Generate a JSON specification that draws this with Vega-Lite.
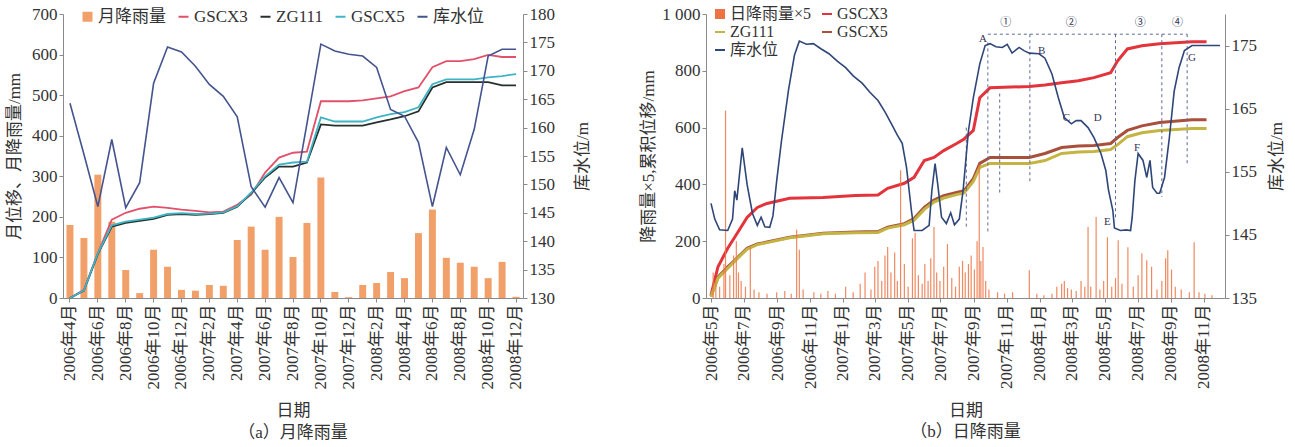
{
  "$schema": "https://vega.github.io/schema/vega-lite/v6.json",
  "padding": {"left": 5, "top": 5, "right": 2, "bottom": 2},
  "config": {
    "font": "Liberation Serif, Noto Sans CJK SC",
    "view": {"stroke": null},
    "axis": {
      "grid": false, "domainColor": "#8a8a8a", "tickColor": "#8a8a8a", "tickSize": 4, "labelOverlap": false,
      "labelColor": "#333333", "titleColor": "#333333", "labelFontSize": 17, "titleFontSize": 17,
      "titleFontWeight": "normal", "labelFont": "Liberation Serif, Noto Sans CJK SC", "titleFont": "Liberation Serif, Noto Sans CJK SC"
    },
    "axisTemporal": {"labelOverlap": false},
    "legend": {"labelFontSize": 17, "labelColor": "#333333", "labelFont": "Liberation Serif, Noto Sans CJK SC"},
    "title": {"fontSize": 17, "fontWeight": "normal", "color": "#333333", "font": "Liberation Serif, Noto Sans CJK SC"},
    "concat": {"spacing": 48}
  },
  "resolve": {"scale": {"color": "independent"}, "legend": {"color": "independent"}},
  "datasets": {
    "monthly": [
      {"月份": "2006年4月", "月降雨量": 180, "GSCX3": 0, "ZG111": 0, "GSCX5": 0, "库水位": 164.3},
      {"月份": "2006年5月", "月降雨量": 148, "GSCX3": 20, "ZG111": 18, "GSCX5": 19, "库水位": 155.3},
      {"月份": "2006年6月", "月降雨量": 304, "GSCX3": 111, "ZG111": 108, "GSCX5": 110, "库水位": 146.1},
      {"月份": "2006年7月", "月降雨量": 188, "GSCX3": 193, "ZG111": 176, "GSCX5": 179, "库水位": 157.9},
      {"月份": "2006年8月", "月降雨量": 69, "GSCX3": 210, "ZG111": 185, "GSCX5": 188, "库水位": 145.9},
      {"月份": "2006年9月", "月降雨量": 12, "GSCX3": 220, "ZG111": 190, "GSCX5": 193, "库水位": 150.3},
      {"月份": "2006年10月", "月降雨量": 119, "GSCX3": 225, "ZG111": 195, "GSCX5": 198, "库水位": 167.8},
      {"月份": "2006年11月", "月降雨量": 77, "GSCX3": 222, "ZG111": 205, "GSCX5": 207, "库水位": 174.2},
      {"月份": "2006年12月", "月降雨量": 20, "GSCX3": 218, "ZG111": 207, "GSCX5": 209, "库水位": 173.3},
      {"月份": "2007年1月", "月降雨量": 18, "GSCX3": 215, "ZG111": 205, "GSCX5": 207, "库水位": 170.8},
      {"月份": "2007年2月", "月降雨量": 32, "GSCX3": 211, "ZG111": 207, "GSCX5": 208, "库水位": 167.6},
      {"月份": "2007年3月", "月降雨量": 30, "GSCX3": 213, "ZG111": 210, "GSCX5": 211, "库水位": 165.5},
      {"月份": "2007年4月", "月降雨量": 143, "GSCX3": 230, "ZG111": 225, "GSCX5": 226, "库水位": 161.9},
      {"月份": "2007年5月", "月降雨量": 176, "GSCX3": 255, "ZG111": 258, "GSCX5": 260, "库水位": 149.6},
      {"月份": "2007年6月", "月降雨量": 119, "GSCX3": 309, "ZG111": 297, "GSCX5": 300, "库水位": 146.0},
      {"月份": "2007年7月", "月降雨量": 200, "GSCX3": 346, "ZG111": 324, "GSCX5": 329, "库水位": 151.2},
      {"月份": "2007年8月", "月降雨量": 101, "GSCX3": 358, "ZG111": 324, "GSCX5": 334, "库水位": 146.8},
      {"月份": "2007年9月", "月降雨量": 185, "GSCX3": 361, "ZG111": 334, "GSCX5": 336, "库水位": 160.7},
      {"月份": "2007年10月", "月降雨量": 297, "GSCX3": 485, "ZG111": 428, "GSCX5": 445, "库水位": 174.7},
      {"月份": "2007年11月", "月降雨量": 15, "GSCX3": 485, "ZG111": 425, "GSCX5": 435, "库水位": 173.5},
      {"月份": "2007年12月", "月降雨量": 2, "GSCX3": 485, "ZG111": 425, "GSCX5": 435, "库水位": 172.9},
      {"月份": "2008年1月", "月降雨量": 32, "GSCX3": 487, "ZG111": 425, "GSCX5": 435, "库水位": 172.6},
      {"月份": "2008年2月", "月降雨量": 37, "GSCX3": 492, "ZG111": 433, "GSCX5": 445, "库水位": 170.6},
      {"月份": "2008年3月", "月降雨量": 64, "GSCX3": 497, "ZG111": 440, "GSCX5": 453, "库水位": 163.2},
      {"月份": "2008年4月", "月降雨量": 49, "GSCX3": 510, "ZG111": 448, "GSCX5": 458, "库水位": 162.0},
      {"月份": "2008年5月", "月降雨量": 160, "GSCX3": 519, "ZG111": 460, "GSCX5": 470, "库水位": 157.4},
      {"月份": "2008年6月", "月降雨量": 218, "GSCX3": 569, "ZG111": 519, "GSCX5": 527, "库水位": 146.1},
      {"月份": "2008年7月", "月降雨量": 99, "GSCX3": 584, "ZG111": 532, "GSCX5": 539, "库水位": 156.5},
      {"月份": "2008年8月", "月降雨量": 87, "GSCX3": 584, "ZG111": 532, "GSCX5": 539, "库水位": 151.7},
      {"月份": "2008年9月", "月降雨量": 77, "GSCX3": 589, "ZG111": 532, "GSCX5": 539, "库水位": 159.7},
      {"月份": "2008年10月", "月降雨量": 49, "GSCX3": 599, "ZG111": 532, "GSCX5": 544, "库水位": 172.6},
      {"月份": "2008年11月", "月降雨量": 89, "GSCX3": 594, "ZG111": 524, "GSCX5": 547, "库水位": 173.8},
      {"月份": "2008年12月", "月降雨量": 3, "GSCX3": 594, "ZG111": 524, "GSCX5": 552, "库水位": 173.8}
    ],
    "rain": [
      {"日期": "2006/05/05", "降雨量x5": 90}, {"日期": "2006/05/10", "降雨量x5": 60}, {"日期": "2006/05/17", "降雨量x5": 40},
      {"日期": "2006/05/25", "降雨量x5": 120}, {"日期": "2006/05/28", "降雨量x5": 660}, {"日期": "2006/06/05", "降雨量x5": 80},
      {"日期": "2006/06/12", "降雨量x5": 150}, {"日期": "2006/06/17", "降雨量x5": 200}, {"日期": "2006/06/21", "降雨量x5": 90},
      {"日期": "2006/06/26", "降雨量x5": 60}, {"日期": "2006/07/04", "降雨量x5": 40}, {"日期": "2006/07/13", "降雨量x5": 180},
      {"日期": "2006/07/20", "降雨量x5": 30}, {"日期": "2006/07/29", "降雨量x5": 20}, {"日期": "2006/08/13", "降雨量x5": 15},
      {"日期": "2006/08/31", "降雨量x5": 20}, {"日期": "2006/09/15", "降雨量x5": 25}, {"日期": "2006/09/27", "降雨量x5": 15},
      {"日期": "2006/10/07", "降雨量x5": 240}, {"日期": "2006/10/12", "降雨量x5": 170}, {"日期": "2006/10/19", "降雨量x5": 30},
      {"日期": "2006/11/08", "降雨量x5": 20}, {"日期": "2006/11/21", "降雨量x5": 15}, {"日期": "2006/12/04", "降雨量x5": 25},
      {"日期": "2006/12/18", "降雨量x5": 15}, {"日期": "2007/01/06", "降雨量x5": 40}, {"日期": "2007/01/20", "降雨量x5": 20},
      {"日期": "2007/02/02", "降雨量x5": 50}, {"日期": "2007/02/11", "降雨量x5": 90}, {"日期": "2007/02/22", "降雨量x5": 30},
      {"日期": "2007/03/01", "降雨量x5": 110}, {"日期": "2007/03/07", "降雨量x5": 130}, {"日期": "2007/03/14", "降雨量x5": 60},
      {"日期": "2007/03/20", "降雨量x5": 150}, {"日期": "2007/03/25", "降雨量x5": 180}, {"日期": "2007/03/31", "降雨量x5": 90},
      {"日期": "2007/04/07", "降雨量x5": 160}, {"日期": "2007/04/12", "降雨量x5": 60}, {"日期": "2007/04/18", "降雨量x5": 450},
      {"日期": "2007/04/25", "降雨量x5": 120}, {"日期": "2007/05/02", "降雨量x5": 40}, {"日期": "2007/05/10", "降雨量x5": 210},
      {"日期": "2007/05/15", "降雨量x5": 230}, {"日期": "2007/05/21", "降雨量x5": 80}, {"日期": "2007/05/28", "降雨量x5": 50},
      {"日期": "2007/06/02", "降雨量x5": 120}, {"日期": "2007/06/08", "降雨量x5": 60}, {"日期": "2007/06/13", "降雨量x5": 140},
      {"日期": "2007/06/19", "降雨量x5": 250}, {"日期": "2007/06/24", "降雨量x5": 90}, {"日期": "2007/06/30", "降雨量x5": 60},
      {"日期": "2007/07/07", "降雨量x5": 110}, {"日期": "2007/07/14", "降雨量x5": 190}, {"日期": "2007/07/22", "降雨量x5": 70},
      {"日期": "2007/07/29", "降雨量x5": 40}, {"日期": "2007/08/05", "降雨量x5": 110}, {"日期": "2007/08/11", "降雨量x5": 130},
      {"日期": "2007/08/16", "降雨量x5": 90}, {"日期": "2007/08/22", "降雨量x5": 120}, {"日期": "2007/08/27", "降雨量x5": 150},
      {"日期": "2007/09/02", "降雨量x5": 100}, {"日期": "2007/09/07", "降雨量x5": 200}, {"日期": "2007/09/11", "降雨量x5": 470},
      {"日期": "2007/09/14", "降雨量x5": 130}, {"日期": "2007/09/18", "降雨量x5": 180}, {"日期": "2007/09/23", "降雨量x5": 60},
      {"日期": "2007/09/29", "降雨量x5": 30}, {"日期": "2007/10/15", "降雨量x5": 20}, {"日期": "2007/10/28", "降雨量x5": 15},
      {"日期": "2007/11/12", "降雨量x5": 20}, {"日期": "2007/12/13", "降雨量x5": 98}, {"日期": "2007/12/27", "降雨量x5": 15},
      {"日期": "2008/01/09", "降雨量x5": 10}, {"日期": "2008/01/24", "降雨量x5": 15}, {"日期": "2008/02/02", "降雨量x5": 40},
      {"日期": "2008/02/11", "降雨量x5": 50}, {"日期": "2008/02/16", "降雨量x5": 60}, {"日期": "2008/02/22", "降雨量x5": 35},
      {"日期": "2008/02/29", "降雨量x5": 30}, {"日期": "2008/03/09", "降雨量x5": 25}, {"日期": "2008/03/18", "降雨量x5": 60},
      {"日期": "2008/03/25", "降雨量x5": 40}, {"日期": "2008/03/31", "降雨量x5": 250}, {"日期": "2008/04/05", "降雨量x5": 40},
      {"日期": "2008/04/15", "降雨量x5": 285}, {"日期": "2008/04/22", "降雨量x5": 30}, {"日期": "2008/04/29", "降雨量x5": 60},
      {"日期": "2008/05/06", "降雨量x5": 214}, {"日期": "2008/05/14", "降雨量x5": 40}, {"日期": "2008/05/21", "降雨量x5": 70},
      {"日期": "2008/05/26", "降雨量x5": 203}, {"日期": "2008/06/02", "降雨量x5": 50}, {"日期": "2008/06/13", "降雨量x5": 179},
      {"日期": "2008/06/23", "降雨量x5": 40}, {"日期": "2008/07/02", "降雨量x5": 80}, {"日期": "2008/07/09", "降雨量x5": 158},
      {"日期": "2008/07/18", "降雨量x5": 133}, {"日期": "2008/07/27", "降雨量x5": 110}, {"日期": "2008/08/06", "降雨量x5": 30},
      {"日期": "2008/08/15", "降雨量x5": 60}, {"日期": "2008/08/22", "降雨量x5": 140}, {"日期": "2008/08/26", "降雨量x5": 168},
      {"日期": "2008/09/02", "降雨量x5": 100}, {"日期": "2008/09/09", "降雨量x5": 40}, {"日期": "2008/09/20", "降雨量x5": 30},
      {"日期": "2008/10/05", "降雨量x5": 20}, {"日期": "2008/10/14", "降雨量x5": 196}, {"日期": "2008/10/23", "降雨量x5": 20},
      {"日期": "2008/11/03", "降雨量x5": 15}, {"日期": "2008/11/16", "降雨量x5": 10}
    ],
    "displacement": [
      {"日期": "2006/05/01", "GSCX3": 10, "GSCX5": 5, "ZG111": 5},
      {"日期": "2006/05/14", "GSCX3": 110, "GSCX5": 74, "ZG111": 70},
      {"日期": "2006/06/01", "GSCX3": 175, "GSCX5": 110, "ZG111": 105},
      {"日期": "2006/06/14", "GSCX3": 214, "GSCX5": 133, "ZG111": 130},
      {"日期": "2006/07/07", "GSCX3": 284, "GSCX5": 175, "ZG111": 172},
      {"日期": "2006/07/26", "GSCX3": 319, "GSCX5": 190, "ZG111": 188},
      {"日期": "2006/08/13", "GSCX3": 333, "GSCX5": 197, "ZG111": 195},
      {"日期": "2006/09/24", "GSCX3": 351, "GSCX5": 214, "ZG111": 212},
      {"日期": "2006/11/25", "GSCX3": 354, "GSCX5": 228, "ZG111": 226},
      {"日期": "2007/01/24", "GSCX3": 361, "GSCX5": 232, "ZG111": 230},
      {"日期": "2007/03/07", "GSCX3": 363, "GSCX5": 234, "ZG111": 231},
      {"日期": "2007/03/25", "GSCX3": 386, "GSCX5": 249, "ZG111": 246},
      {"日期": "2007/04/25", "GSCX3": 404, "GSCX5": 262, "ZG111": 258},
      {"日期": "2007/05/13", "GSCX3": 425, "GSCX5": 280, "ZG111": 274},
      {"日期": "2007/06/01", "GSCX3": 484, "GSCX5": 319, "ZG111": 312},
      {"日期": "2007/06/19", "GSCX3": 495, "GSCX5": 345, "ZG111": 338},
      {"日期": "2007/07/07", "GSCX3": 519, "GSCX5": 360, "ZG111": 352},
      {"日期": "2007/07/31", "GSCX3": 544, "GSCX5": 372, "ZG111": 364},
      {"日期": "2007/08/14", "GSCX3": 560, "GSCX5": 378, "ZG111": 370},
      {"日期": "2007/08/31", "GSCX3": 590, "GSCX5": 420, "ZG111": 410},
      {"日期": "2007/09/12", "GSCX3": 705, "GSCX5": 474, "ZG111": 460},
      {"日期": "2007/10/01", "GSCX3": 740, "GSCX5": 495, "ZG111": 474},
      {"日期": "2007/12/13", "GSCX3": 745, "GSCX5": 495, "ZG111": 474},
      {"日期": "2008/01/11", "GSCX3": 750, "GSCX5": 509, "ZG111": 484},
      {"日期": "2008/02/11", "GSCX3": 758, "GSCX5": 530, "ZG111": 509},
      {"日期": "2008/03/13", "GSCX3": 765, "GSCX5": 535, "ZG111": 514},
      {"日期": "2008/04/11", "GSCX3": 776, "GSCX5": 537, "ZG111": 516},
      {"日期": "2008/05/12", "GSCX3": 793, "GSCX5": 544, "ZG111": 523},
      {"日期": "2008/05/25", "GSCX3": 835, "GSCX5": 565, "ZG111": 540},
      {"日期": "2008/06/12", "GSCX3": 877, "GSCX5": 590, "ZG111": 568},
      {"日期": "2008/07/09", "GSCX3": 888, "GSCX5": 606, "ZG111": 582},
      {"日期": "2008/08/11", "GSCX3": 895, "GSCX5": 618, "ZG111": 590},
      {"日期": "2008/10/10", "GSCX3": 902, "GSCX5": 628, "ZG111": 597},
      {"日期": "2008/11/06", "GSCX3": 902, "GSCX5": 628, "ZG111": 597}
    ],
    "level": [
      {"日期": "2006/05/01", "库水位": 150.0}, {"日期": "2006/05/08", "库水位": 147.5}, {"日期": "2006/05/17", "库水位": 145.8},
      {"日期": "2006/06/01", "库水位": 145.7}, {"日期": "2006/06/10", "库水位": 147.5}, {"日期": "2006/06/14", "库水位": 152.0},
      {"日期": "2006/06/18", "库水位": 150.5}, {"日期": "2006/06/28", "库水位": 158.8}, {"日期": "2006/07/07", "库水位": 153.0},
      {"日期": "2006/07/17", "库水位": 148.4}, {"日期": "2006/07/26", "库水位": 146.5}, {"日期": "2006/08/02", "库水位": 147.8},
      {"日期": "2006/08/09", "库水位": 146.3}, {"日期": "2006/08/18", "库水位": 146.2}, {"日期": "2006/08/24", "库水位": 148.0},
      {"日期": "2006/08/31", "库水位": 153.6}, {"日期": "2006/09/09", "库水位": 160.0}, {"日期": "2006/09/22", "库水位": 168.0},
      {"日期": "2006/10/03", "库水位": 173.5}, {"日期": "2006/10/12", "库水位": 175.7}, {"日期": "2006/10/25", "库水位": 175.2},
      {"日期": "2006/11/07", "库水位": 175.3}, {"日期": "2006/11/21", "库水位": 174.5}, {"日期": "2006/12/06", "库水位": 173.7},
      {"日期": "2006/12/22", "库水位": 172.5}, {"日期": "2007/01/06", "库水位": 171.5}, {"日期": "2007/01/20", "库水位": 170.2},
      {"日期": "2007/02/06", "库水位": 169.0}, {"日期": "2007/02/20", "库水位": 167.6}, {"日期": "2007/03/07", "库水位": 166.3},
      {"日期": "2007/03/20", "库水位": 164.5}, {"日期": "2007/04/01", "库水位": 162.6}, {"日期": "2007/04/12", "库水位": 160.8},
      {"日期": "2007/04/21", "库水位": 159.5}, {"日期": "2007/04/29", "库水位": 155.7}, {"日期": "2007/05/08", "库水位": 148.9},
      {"日期": "2007/05/13", "库水位": 145.7}, {"日期": "2007/05/28", "库水位": 145.7}, {"日期": "2007/06/10", "库水位": 146.5},
      {"日期": "2007/06/15", "库水位": 152.0}, {"日期": "2007/06/21", "库水位": 156.3}, {"日期": "2007/06/26", "库水位": 153.0},
      {"日期": "2007/07/03", "库水位": 147.8}, {"日期": "2007/07/12", "库水位": 146.8}, {"日期": "2007/07/20", "库水位": 148.5},
      {"日期": "2007/07/27", "库水位": 146.6}, {"日期": "2007/08/05", "库水位": 147.5}, {"日期": "2007/08/12", "库水位": 152.0},
      {"日期": "2007/08/22", "库水位": 161.5}, {"日期": "2007/08/31", "库水位": 166.7}, {"日期": "2007/09/12", "库水位": 172.1},
      {"日期": "2007/09/22", "库水位": 175.0}, {"日期": "2007/10/01", "库水位": 175.3}, {"日期": "2007/10/12", "库水位": 174.8},
      {"日期": "2007/10/24", "库水位": 174.7}, {"日期": "2007/11/02", "库水位": 175.2}, {"日期": "2007/11/11", "库水位": 173.8},
      {"日期": "2007/11/24", "库水位": 174.7}, {"日期": "2007/12/03", "库水位": 174.2}, {"日期": "2007/12/13", "库水位": 173.8},
      {"日期": "2007/12/31", "库水位": 173.7}, {"日期": "2008/01/11", "库水位": 173.0}, {"日期": "2008/01/24", "库水位": 170.5},
      {"日期": "2008/02/05", "库水位": 166.7}, {"日期": "2008/02/16", "库水位": 163.6}, {"日期": "2008/02/29", "库水位": 162.6},
      {"日期": "2008/03/09", "库水位": 163.1}, {"日期": "2008/03/18", "库水位": 163.1}, {"日期": "2008/03/31", "库水位": 162.0},
      {"日期": "2008/04/11", "库水位": 160.4}, {"日期": "2008/04/24", "库水位": 157.9}, {"日期": "2008/05/03", "库水位": 155.2},
      {"日期": "2008/05/08", "库水位": 152.1}, {"日期": "2008/05/16", "库水位": 148.9}, {"日期": "2008/05/19", "库水位": 146.1},
      {"日期": "2008/05/30", "库水位": 145.7}, {"日期": "2008/06/10", "库水位": 145.8}, {"日期": "2008/06/18", "库水位": 145.7},
      {"日期": "2008/06/21", "库水位": 147.8}, {"日期": "2008/06/26", "库水位": 153.6}, {"日期": "2008/07/02", "库水位": 157.9},
      {"日期": "2008/07/11", "库水位": 156.8}, {"日期": "2008/07/18", "库水位": 154.1}, {"日期": "2008/07/24", "库水位": 156.8},
      {"日期": "2008/07/29", "库水位": 152.5}, {"日期": "2008/08/06", "库水位": 151.6}, {"日期": "2008/08/11", "库水位": 151.6},
      {"日期": "2008/08/20", "库水位": 154.1}, {"日期": "2008/08/29", "库水位": 160.4}, {"日期": "2008/09/07", "库水位": 167.8},
      {"日期": "2008/09/16", "库水位": 171.5}, {"日期": "2008/09/26", "库水位": 174.2}, {"日期": "2008/10/10", "库水位": 175.0},
      {"日期": "2008/11/05", "库水位": 175.0}, {"日期": "2008/12/01", "库水位": 175.0}
    ],
    "stages": [
      {"日期": "2007/08/18", "上": 162.0, "下": 146.0},
      {"日期": "2007/09/27", "上": 175.5, "下": 145.4},
      {"日期": "2007/10/19", "上": 167.4, "下": 151.6},
      {"日期": "2007/12/14", "上": 176.8, "下": 153.2},
      {"日期": "2008/05/21", "上": 176.8, "下": 147.3},
      {"日期": "2008/08/15", "上": 176.8, "下": 151.0},
      {"日期": "2008/10/01", "上": 176.8, "下": 156.3}
    ],
    "stageSpan": [
      {"日期": "2007/09/27", "终": "2008/10/01", "库水位": 176.8}
    ],
    "labels": [
      {"日期": "2007/10/30", "库水位": 178.5, "标注": "①"},
      {"日期": "2008/02/29", "库水位": 178.5, "标注": "②"},
      {"日期": "2008/07/06", "库水位": 178.5, "标注": "③"},
      {"日期": "2008/09/13", "库水位": 178.5, "标注": "④"},
      {"日期": "2007/09/18", "库水位": 176.0, "标注": "A"},
      {"日期": "2008/01/05", "库水位": 174.2, "标注": "B"},
      {"日期": "2008/02/20", "库水位": 163.6, "标注": "C"},
      {"日期": "2008/04/18", "库水位": 163.6, "标注": "D"},
      {"日期": "2008/05/06", "库水位": 147.0, "标注": "E"},
      {"日期": "2008/06/30", "库水位": 158.8, "标注": "F"},
      {"日期": "2008/10/10", "库水位": 173.0, "标注": "G"}
    ]
  },
  "hconcat": [
    {
      "width": 460,
      "height": 284,
      "title": {"text": "（a）月降雨量", "orient": "bottom", "offset": 6},
      "data": {"name": "monthly"},
      "layer": [
        {
          "layer": [
            {
              "mark": {"type": "bar", "color": "#f2a06a"},
              "encoding": {
                "x": {
                  "field": "月份", "type": "ordinal", "sort": null,
                  "scale": {"paddingInner": 0.5, "paddingOuter": 0.25},
                  "axis": {
                    "title": "日期", "labelAngle": -90, "titlePadding": 14, "labelOverlap": false,
                    "values": ["2006年4月", "2006年6月", "2006年8月", "2006年10月", "2006年12月", "2007年2月", "2007年4月", "2007年6月", "2007年8月", "2007年10月", "2007年12月", "2008年2月", "2008年4月", "2008年6月", "2008年8月", "2008年10月", "2008年12月"]
                  }
                },
                "y": {
                  "field": "月降雨量", "type": "quantitative",
                  "scale": {"domain": [0, 700], "nice": false},
                  "axis": {"title": "月位移、月降雨量/mm", "titleAngle": 270, "titlePadding": 8, "values": [0, 100, 200, 300, 400, 500, 600, 700]}
                },
                "color": {
                  "datum": "月降雨量", "type": "nominal",
                  "scale": {"domain": ["月降雨量", "GSCX3", "ZG111", "GSCX5", "库水位"], "range": ["#f2a06a", "#e2506a", "#26302c", "#3fb4c4", "#44548e"]},
                  "legend": {
                    "title": null, "orient": "none", "legendX": 16, "legendY": -6, "direction": "horizontal", "columns": 5,
                    "columnPadding": 8, "labelOffset": 2, "symbolSize": 100, "symbolStrokeWidth": 2, "labelFontSize": 17,
                    "encode": {"symbols": {"update": {
                      "shape": {"signal": "datum.value === '月降雨量' ? 'square' : 'stroke'"},
                      "fill": {"signal": "datum.value === '月降雨量' ? '#f2a06a' : 'transparent'"},
                      "stroke": {"signal": "({'月降雨量': '#f2a06a', 'GSCX3': '#e2506a', 'ZG111': '#26302c', 'GSCX5': '#3fb4c4', '库水位': '#44548e'})[datum.value]"},
                      "strokeWidth": {"signal": "datum.value === '月降雨量' ? 0 : 2"}
                    }}}
                  }
                }
              }
            },
            {
              "transform": [{"fold": ["GSCX3", "ZG111", "GSCX5"], "as": ["测点", "位移"]}],
              "mark": {"type": "line", "strokeWidth": 1.8},
              "encoding": {
                "x": {"field": "月份", "type": "ordinal", "sort": null},
                "y": {"field": "位移", "type": "quantitative"},
                "color": {"field": "测点", "type": "nominal", "legend": {"title": null}}
              }
            }
          ]
        },
        {
          "mark": {"type": "line", "strokeWidth": 1.6},
          "encoding": {
            "x": {"field": "月份", "type": "ordinal", "sort": null},
            "y": {
              "field": "库水位", "type": "quantitative",
              "scale": {"domain": [130, 180], "nice": false, "zero": false},
              "axis": {"orient": "right", "title": "库水位/m", "titleAngle": 270, "titleBaseline": "top", "titlePadding": 20, "values": [130, 135, 140, 145, 150, 155, 160, 165, 170, 175, 180]}
            },
            "color": {"datum": "库水位", "type": "nominal"}
          }
        }
      ],
      "resolve": {"scale": {"y": "independent"}}
    },
    {
      "width": 519,
      "height": 284,
      "title": {"text": "（b）日降雨量", "orient": "bottom", "offset": 6},
      "layer": [
        {
          "layer": [
            {
              "data": {"name": "displacement"},
              "transform": [{"fold": ["GSCX3", "GSCX5", "ZG111"], "as": ["测点", "位移"]}],
              "mark": {"type": "line", "strokeWidth": 3},
              "encoding": {
                "x": {
                  "field": "日期", "type": "temporal",
                  "scale": {"domain": [{"year": 2006, "month": 5, "date": 1}, {"year": 2008, "month": 12, "date": 1}]},
                  "axis": {
                    "title": "日期", "labelAngle": -90, "titlePadding": 14, "labelOverlap": false, "labelBound": false,
                    "format": "%Y年%-m月", "formatType": "time",
                    "tickCount": {"interval": "month", "step": 2}
                  }
                },
                "y": {
                  "field": "位移", "type": "quantitative",
                  "scale": {"domain": [0, 1000], "nice": false},
                  "axis": {"title": "降雨量×5,累积位移/mm", "titleAngle": 270, "titlePadding": 4, "values": [0, 100, 200, 300, 400, 500, 600, 700, 800, 900, 1000], "labelExpr": "datum.value == 1000 ? '1 000' : datum.label"}
                },
                "color": {
                  "field": "测点", "type": "nominal",
                  "scale": {"domain": ["日降雨量×5", "GSCX3", "ZG111", "GSCX5", "库水位"], "range": ["#ec7444", "#e3343c", "#c4b444", "#a8503c", "#2f4678"]},
                  "legend": {
                    "title": null, "orient": "none", "legendX": 6, "legendY": -8, "direction": "horizontal", "columns": 2,
                    "columnPadding": 6, "rowPadding": 2, "labelOffset": 2, "symbolSize": 100, "symbolStrokeWidth": 2, "labelFontSize": 16,
                    "symbolType": "stroke",
                    "encode": {"symbols": {"update": {
                      "shape": {"signal": "datum.index === 0 ? 'square' : 'stroke'"},
                      "fill": {"signal": "datum.index === 0 ? '#e04a44' : 'transparent'"},
                      "stroke": {"signal": "(['#e04a44', '#e3343c', '#c4b444', '#a8503c', '#2f4678'])[datum.index]"},
                      "strokeWidth": {"signal": "datum.index === 0 ? 0 : 2"}
                    }}}
                  }
                }
              }
            },
            {
              "data": {"name": "rain"},
              "mark": {"type": "bar", "width": 1.2, "opacity": 0.85},
              "encoding": {
                "x": {"field": "日期", "type": "temporal"},
                "y": {"field": "降雨量x5", "type": "quantitative"},
                "y2": {"datum": 0},
                "color": {"datum": "日降雨量×5", "type": "nominal"}
              }
            }
          ]
        },
        {
          "layer": [
            {
              "data": {"name": "stages"},
              "mark": {"type": "rule", "color": "#5a6a9a", "strokeWidth": 1, "strokeDash": [3, 3]},
              "encoding": {
                "x": {"field": "日期", "type": "temporal"},
                "y": {"field": "上", "type": "quantitative", "scale": {"domain": [135, 180], "nice": false, "zero": false},
                      "axis": {"orient": "right", "title": "库水位/m", "titleAngle": 270, "titleBaseline": "top", "titlePadding": 12, "values": [135, 140, 145, 150, 155, 160, 165, 170, 175, 180]}},
                "y2": {"field": "下"}
              }
            },
            {
              "data": {"name": "stageSpan"},
              "mark": {"type": "rule", "color": "#5a6a9a", "strokeWidth": 1, "strokeDash": [3, 3]},
              "encoding": {
                "x": {"field": "日期", "type": "temporal"},
                "x2": {"field": "终"},
                "y": {"field": "库水位", "type": "quantitative"}
              }
            },
            {
              "data": {"name": "labels"},
              "mark": {"type": "text", "fontSize": 11, "color": "#333355", "baseline": "middle"},
              "encoding": {
                "x": {"field": "日期", "type": "temporal"},
                "y": {"field": "库水位", "type": "quantitative"},
                "text": {"field": "标注"}
              }
            },
            {
              "data": {"name": "level"},
              "mark": {"type": "line", "strokeWidth": 1.6},
              "encoding": {
                "x": {"field": "日期", "type": "temporal"},
                "y": {"field": "库水位", "type": "quantitative"},
                "color": {"datum": "库水位", "type": "nominal"}
              }
            }
          ]
        }
      ],
      "resolve": {"scale": {"y": "independent"}}
    }
  ]
}
